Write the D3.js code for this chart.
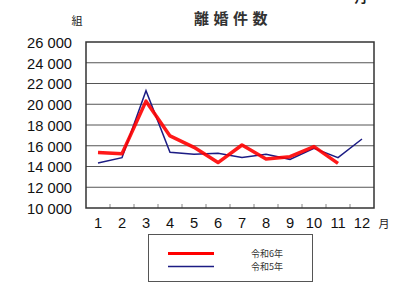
<!DOCTYPE html>
<html>
<head>
<meta charset="utf-8">
<script src="https://cdn.jsdelivr.net/npm/d3@7"></script>
<style>
  body { margin: 0; background: #fff; }
  svg { display: block; font-family: "Liberation Sans", Arial, sans-serif; }
</style>
</head>
<body>
<svg id="chart" width="416" height="284"></svg>
<script>
// months on the x axis
const months = ["1", "2", "3", "4", "5", "6", "7", "8", "9", "10", "11", "12"];
// 令和6年 (red, up to November)
const r6 = [15350, 15230, 20300, 16950, 15850, 14380, 16070, 14720, 14950, 15920, 14300];
// 令和5年 (navy, full year)
const r5 = [14340, 14850, 21300, 15370, 15170, 15270, 14880, 15170, 14690, 15750, 14850, 16650];
const yTicks = [10000, 12000, 14000, 16000, 18000, 20000, 22000, 24000, 26000];

const svg = d3.select("#chart");
const plotL = 86, plotR = 374, plotT = 42, plotB = 208;

const x = d3.scaleBand().domain(months).range([plotL, plotR]);
const y = d3.scaleLinear().domain([10000, 26000]).range([plotB, plotT]);
const fmt = d => d3.format(",")(d).replace(",", " ");

// glyph cut off by the top edge, as in the source page
svg.append("text").attr("x", 361).attr("y", 1.5).attr("text-anchor", "middle")
  .style("font-size", "13px").style("font-weight", "bold").attr("fill", "#222")
  .style("font-family", "'Noto Sans CJK JP'").text("月");

// title
svg.append("text").attr("x", 233).attr("y", 24).attr("text-anchor", "middle")
  .style("font-family", "'Noto Sans CJK JP'").style("font-size", "15px")
  .style("font-weight", "bold").style("letter-spacing", "4.5px").attr("fill", "#333")
  .text("離婚件数");

svg.append("text").attr("x", 77).attr("y", 25).attr("text-anchor", "middle")
  .style("font-family", "'Noto Sans CJK JP'").style("font-size", "11px")
  .attr("fill", "#222").text("組");

// grid lines
svg.append("g").selectAll("line").data(yTicks.slice(1, -1)).join("line")
  .attr("x1", plotL).attr("x2", plotR)
  .attr("y1", d => y(d)).attr("y2", d => y(d))
  .attr("stroke", "#555").attr("stroke-width", 1);

// y axis labels
svg.append("g").attr("transform", `translate(${plotL - 14},0)`)
  .call(d3.axisLeft(y).tickValues(yTicks).tickFormat(fmt).tickSize(0).tickPadding(0))
  .call(g => g.select(".domain").remove())
  .selectAll("text").attr("font-family", "'Liberation Sans', Arial, sans-serif")
  .attr("font-size", "14.7px").attr("fill", "#111").attr("dy", "0.36em");

// x axis: small ticks at month boundaries, labels at band centres
const bounds = months.slice(1).map(m => x(m));
svg.append("g").selectAll("line").data(bounds).join("line")
  .attr("x1", d => d).attr("x2", d => d)
  .attr("y1", plotB).attr("y2", plotB - 4)
  .attr("stroke", "#888").attr("stroke-width", 1);

svg.append("g").attr("transform", `translate(0,${plotB + 15})`)
  .call(d3.axisBottom(x).tickSize(0).tickPadding(0))
  .call(g => g.select(".domain").remove())
  .selectAll("text").attr("font-family", "'Liberation Sans', Arial, sans-serif")
  .attr("font-size", "14.7px").attr("fill", "#111").attr("dy", "0.36em");

svg.append("text").attr("x", 384).attr("y", 228).attr("text-anchor", "middle")
  .style("font-family", "'Noto Sans CJK JP'").style("font-size", "11px")
  .attr("fill", "#222").text("月");

// frame
svg.append("rect").attr("x", plotL).attr("y", plotT).attr("width", plotR - plotL)
  .attr("height", plotB - plotT).attr("fill", "none")
  .attr("stroke", "#333").attr("stroke-width", 1.5);

// lines
const line = d3.line().x((d, i) => x(months[i]) + x.bandwidth() / 2).y(d => y(d));
svg.append("path").datum(r5).attr("d", line).attr("fill", "none")
  .attr("stroke", "#1c1c84").attr("stroke-width", 1.5);
svg.append("path").datum(r6).attr("d", line).attr("fill", "none")
  .attr("stroke", "#ff0000").attr("stroke-width", 3.5).attr("stroke-linejoin", "round")
  .attr("stroke-opacity", 0.9);

// legend
const lg = svg.append("g");
lg.append("rect").attr("x", 148.5).attr("y", 234.5).attr("width", 164).attr("height", 47)
  .attr("fill", "#fff").attr("stroke", "#555").attr("stroke-width", 1);
const legend = [
  { name: "令和6年", color: "#ff0000", w: 3, yy: 253.5 },
  { name: "令和5年", color: "#1c1c84", w: 1.3, yy: 266.5 }
];
legend.forEach(l => {
  lg.append("line").attr("x1", 168).attr("x2", 214).attr("y1", l.yy).attr("y2", l.yy)
    .attr("stroke", l.color).attr("stroke-width", l.w);
  lg.append("text").attr("x", 251).attr("y", l.yy).attr("dy", "0.35em")
    .style("font-family", "'Noto Sans CJK JP'").style("font-size", "9px")
    .attr("fill", "#333").text(l.name);
});
</script>
</body>
</html>
